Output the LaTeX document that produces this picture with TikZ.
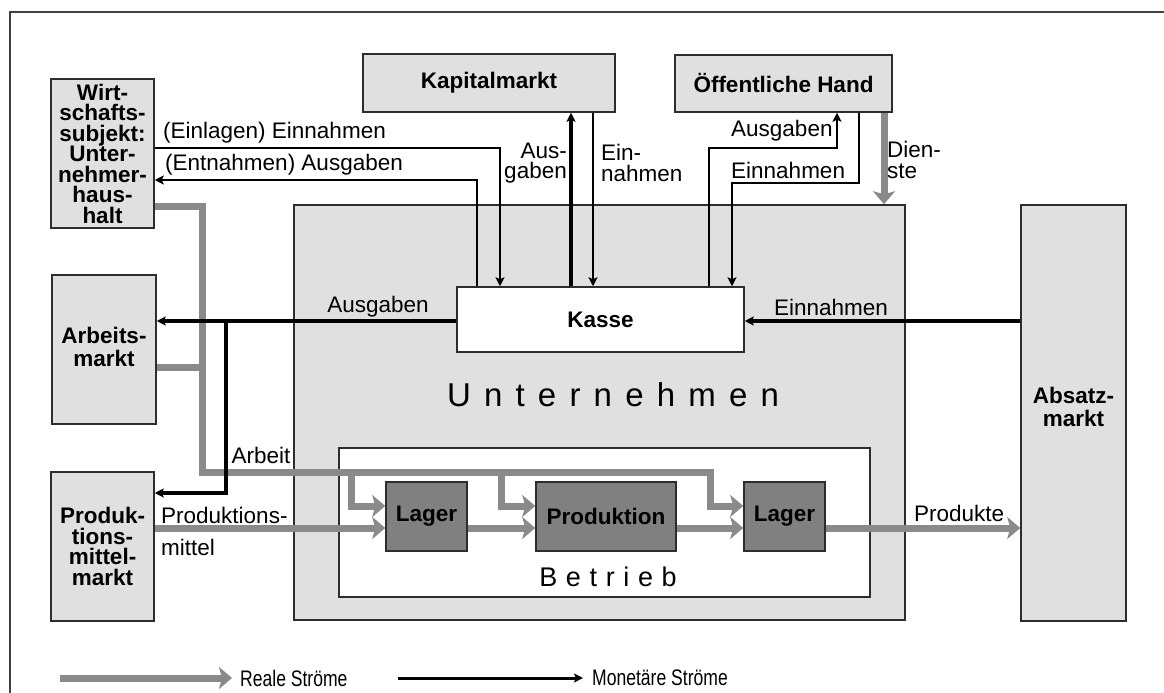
\documentclass[tikz,border=0pt]{standalone}
\usepackage{fontspec}
\setmainfont{Liberation Sans}
\newfontfamily\widesans[LetterSpace=40]{Liberation Sans}
\newfontfamily\midsans[LetterSpace=32]{Liberation Sans}
\usetikzlibrary{arrows.meta}

\definecolor{boxfill}{RGB}{224,224,224}
\definecolor{boxline}{RGB}{45,45,45}
\definecolor{flowgray}{RGB}{138,138,138}
\definecolor{unitfill}{RGB}{128,128,128}

\tikzset{
  market/.style={draw=boxline, line width=1.5pt, fill=boxfill, inner sep=0pt,
    align=center, font=\fontsize{22.5}{20.5}\selectfont\bfseries},
  unit/.style={draw=boxline, line width=1.5pt, fill=unitfill, inner sep=0pt,
    font=\fontsize{22.5}{20.5}\selectfont\bfseries},
  lbl/.style={inner sep=0pt, font=\fontsize{22.5}{20.5}\selectfont},
  real/.style={draw=flowgray, line width=7pt,
    -{Stealth[length=13pt,width=22pt,inset=3pt]}},
  realbar/.style={draw=flowgray, line width=7pt},
  money/.style={draw=black, line width=2.5pt,
    -{Stealth[length=9pt,width=9pt,inset=2pt]}},
  moneymid/.style={money, line width=3.5pt},
  moneythick/.style={money, line width=4.3pt},
}

\begin{document}
\begin{tikzpicture}[x=1pt,y=-1pt]
\useasboundingbox (0,0) rectangle (1164,693);
\fill[white] (0,0) rectangle (1164,693);

% outer frame
\draw[black!75, line width=1.5pt] (9,12) -- (1164,12);
\draw[black!75, line width=1.5pt] (10,12) -- (10,693);

% enterprise and plant
\node[market, minimum width=611pt, minimum height=415pt] (unt) at (599.5,412.5) {};
\node[font=\fontsize{33}{33}\selectfont\widesans] (untlbl) at (613,395) {Unternehmen};
\node[draw=boxline, line width=1.5pt, fill=white, minimum width=531pt, minimum height=149pt] (betrieb) at (604.5,522.5) {};
\node[font=\fontsize{27}{27}\selectfont\midsans] (betlbl) at (608,577) {Betrieb};

% markets and partners
\node[market, minimum width=103pt, minimum height=149pt] (ws) at (102.5,153.5)
  {Wirt-\\schafts-\\subjekt:\\Unter-\\nehmer-\\haus-\\halt};
\node[market, minimum width=252pt, minimum height=58pt] (km) at (489,83) {Kapitalmarkt};
\node[market, minimum width=217pt, minimum height=57pt] (oh) at (783.5,83.5) {Öffentliche Hand};
\node[market, minimum width=104pt, minimum height=149pt] (am) at (104,349.5) {};
\node[font=\fontsize{22.5}{23}\selectfont\bfseries, align=center] (amlbl) at (104,347) {Arbeits-\\markt};
\node[market, minimum width=103pt, minimum height=149pt] (pm) at (102.5,546.5)
  {Produk-\\tions-\\mittel-\\markt};
\node[market, minimum width=105pt, minimum height=416pt] (ab) at (1073.5,413) {};
\node[font=\fontsize{22.5}{23}\selectfont\bfseries, align=center] (ablbl) at (1073.5,407) {Absatz-\\markt};

% cash desk and production units
\node[market, fill=white, minimum width=287pt, minimum height=65pt] (kasse) at (600.5,319.5) {Kasse};
\node[unit, minimum width=81pt, minimum height=69pt] (l1) at (426.5,516.5) {Lager};
\node[unit, minimum width=140pt, minimum height=69pt] (prod) at (606,516.5) {Produktion};
\node[unit, minimum width=81pt, minimum height=69pt] (l2) at (784.5,516.5) {Lager};

% real flows
\draw[real] (ws.east |- 0,206) -| (202,472) -- (710,472) |- (l2.west |- 0,506);
\draw[realbar] (am.east |- 0,367) -- (205.5,367);
\draw[real] (351,472) |- (l1.west |- 0,506);
\draw[real] (501,472) |- (prod.west |- 0,506);
\draw[real] (pm.east |- 0,528) -- (l1.west |- 0,528);
\draw[real] (l1.east |- 0,528) -- (prod.west |- 0,528);
\draw[real] (prod.east |- 0,528) -- (l2.west |- 0,528);
\draw[real] (l2.east |- 0,528) -- (ab.west |- 0,528);
\draw[real] (884,0 |- oh.south) -- (884,0 |- unt.north);

% monetary flows
\coordinate (split) at (226,321);
\draw[moneythick] (kasse.west |- split) -- (am.east |- split);
\draw[moneymid] (split) |- (pm.east |- 0,493);
\draw[moneythick] (ab.west |- split) -- (kasse.east |- split);
\draw[money] (ws.east |- 0,148) -| (500,0 |- kasse.north);
\draw[money] (477,0 |- kasse.north) |- (ws.east |- 0,180);
\draw[moneythick] (571,0 |- kasse.north) -- (571,0 |- km.south);
\draw[money] (593,0 |- km.south) -- (593,0 |- kasse.north);
\draw[money] (709,0 |- kasse.north) |- (837,148) -- (837,0 |- oh.south);
\draw[money] (859,0 |- oh.south) |- (732,183) -- (732,0 |- kasse.north);

% flow labels
\node[lbl, anchor=west] (t1) at (163,133) {(Einlagen) Einnahmen};
\node[lbl, anchor=west] (t2) at (165,165) {(Entnahmen) Ausgaben};
\node[lbl, anchor=east, align=right] (t3) at (567,163) {Aus-\\gaben};
\node[lbl, anchor=west, align=left] (t4) at (601,163) {Ein-\\nahmen};
\node[lbl, anchor=west] (t5) at (731,131) {Ausgaben};
\node[lbl, anchor=west] (t6) at (731,170) {Einnahmen};
\node[lbl, anchor=west, align=left] (t7) at (887,160) {Dien-\\ste};
\node[lbl] (t8) at (378,307) {Ausgaben};
\node[lbl] (t9) at (831,307) {Einnahmen};
\node[lbl] (t10) at (261,455) {Arbeit};
\node[lbl, anchor=west, align=left, font=\fontsize{22.5}{32}\selectfont] (t11) at (161,531) {Produktions-\\mittel};
\node[lbl, anchor=west] (t12) at (914,513) {Produkte};

% legend
\coordinate (r0) at (60,678);
\coordinate (r1) at (232,678);
\coordinate (m0) at (398,678);
\coordinate (m1) at (583,678);
\draw[real] (r0) -- (r1);
\draw[money, line width=3pt] (m0) -- (m1);
\node[lbl, anchor=west] (lg1) at (240,678) {\scalebox{0.78}[1]{Reale Ströme}};
\node[lbl, anchor=west] (lg2) at (592,678) {\scalebox{0.78}[1]{Monetäre Ströme}};
\end{tikzpicture}
\end{document}
